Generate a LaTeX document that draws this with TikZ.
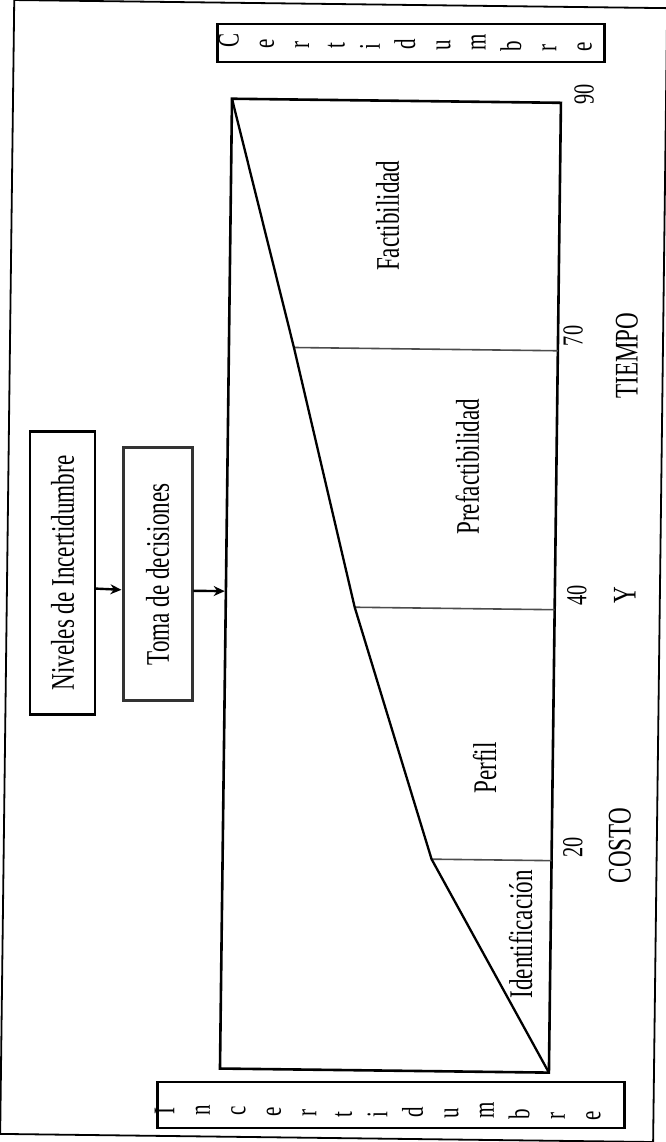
\documentclass[tikz,border=0pt]{standalone}
\usepackage{graphicx}
\usepackage{fontspec}
\setmainfont{Liberation Serif}
\usetikzlibrary{arrows.meta}
% condensed text, as set in the chart
\newcommand\narrow[1]{\scalebox{0.7}[1]{#1}}
\begin{document}
\begin{tikzpicture}[x=1pt,y=-1pt,
  lbl/.style={rotate=90, inner sep=0pt, font=\fontsize{33}{36}\selectfont},
  num/.style={rotate=90, inner sep=0pt, font=\fontsize{29}{32}\selectfont},
  ltr/.style={rotate=90, inner sep=0pt, anchor=base west, font=\fontsize{30}{32}\selectfont},
  box/.style={draw, line width=2.5pt, inner sep=0pt},
  edge/.style={line width=2.6pt},
  curve/.style={line width=2.3pt, line join=round},
  divider/.style={line width=1.6pt, black!70},
  arr/.style={line width=2.4pt, -{Stealth[length=11pt,width=10pt]}}]
\useasboundingbox (0,0) rectangle (665,1142);
\fill[white] (0,0) rectangle (665,1142);
\begin{scope}[rotate around={-0.71:(332,585)}]
  % outer frame
  \draw[line width=1.8pt] (7,4) rectangle (660,1138);

  % certainty scale (top)
  \node[box, minimum width=387pt, minimum height=38pt] (cert) at (404.5,42) {};
  \foreach \ch [count=\i from 0] in {C,e,r,t,i,d,u,m,b,r,e}
    \node[ltr] (cl\i) at ({232+35.3*\i},49) {\narrow{\ch}};

  % uncertainty scale (bottom)
  \node[box, minimum width=467pt, minimum height=46pt] (incert) at (397.5,1104) {};
  \foreach \ch [count=\i from 0] in {I,n,c,e,r,t,i,d,u,m,b,r,e}
    \node[ltr] (il\i) at ({181+35.5*\i},1117) {\narrow{\ch}};

  % left boxes
  \node[box, minimum width=65pt, minimum height=283pt] (niv) at (62.5,576.5) {};
  \node[lbl] (nivtxt) at (niv) {\narrow{Niveles de Incertidumbre}};
  \node[box, draw=black!80, line width=3pt, minimum width=69pt, minimum height=253pt] (toma) at (157.5,576.5) {};
  \node[lbl] (tomatxt) at (toma) {\narrow{Toma de decisiones}};

  % chart frame and cost curve
  \coordinate (tl) at (226,100);
  \coordinate (br) at (555,1070);
  \coordinate (p70) at (291,348);
  \coordinate (p40) at (355,607);
  \coordinate (p20) at (435,858);
  \draw[edge] (tl) rectangle (br);
  \draw[divider] (p70) -- (p70 -| br);
  \draw[divider] (p40) -- (p40 -| br);
  \draw[divider] (p20) -- (p20 -| br);
  \draw[curve] (tl) -- (p70) -- (p40) -- (p20) -- (br);

  % arrows
  \draw[arr] ([yshift=-15.5pt]niv.east) -- ([yshift=-15.5pt]toma.west);
  \draw[arr, shorten >=1.2pt] ([yshift=-16.5pt]toma.east) -- ([yshift=-16.5pt]toma.east -| tl);

  % stage labels
  \node[lbl] (fac) at (383,215) {\narrow{Factibilidad}};
  \node[lbl] (pref) at (466,465) {\narrow{Prefactibilidad}};
  \node[lbl] (perf) at (487,766) {\narrow{Perfil}};
  \node[lbl] (iden) at (525,932) {\narrow{Identificación}};

  % time axis values
  \node[num] (t90) at (578,91) {\narrow{90}};
  \node[num] (t70) at (570,333) {\narrow{70}};
  \node[num] (t40) at (577,592) {\narrow{40}};
  \node[num] (t20) at (576,844) {\narrow{20}};

  % axis words
  \node[lbl] (tiempo) at (624,352) {\narrow{TIEMPO}};
  \node[lbl] (yy) at (625,592) {\narrow{Y}};
  \node[lbl] (costo) at (623,842) {\narrow{COSTO}};
\end{scope}
\end{tikzpicture}
\end{document}
